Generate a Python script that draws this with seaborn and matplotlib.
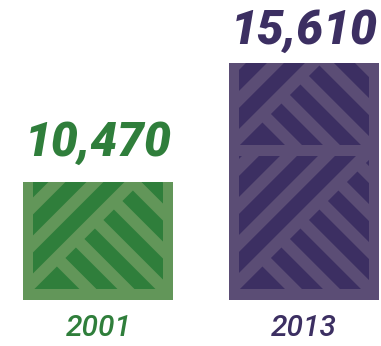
import matplotlib
matplotlib.use("Agg")
import matplotlib.pyplot as plt
import numpy as np
import pandas as pd
import seaborn as sns
from matplotlib.patches import Polygon
from matplotlib.transforms import Affine2D, Bbox

# Data
years = ["2001", "2013"]
counts = [10470, 15610]
count_labels = ["10,470", "15,610"]

# Colours
bar_colors = ["#2f7e3b", "#3c2f62"]
stripe_colors = ["#629659", "#5b4d75"]
text_colors = ["#2f7e3b", "#3c2f62"]

sns.set_theme(style="white")
plt.rcParams["font.family"] = ["Roboto", "DejaVu Sans"]

W, H, DPI = 381, 346, 100
BASE = 46          # pixels between figure bottom and bar baseline
PX = 72 / DPI      # points per pixel

fig = plt.figure(figsize=(W / DPI, H / DPI), dpi=DPI)
fig.patch.set_facecolor("white")
ax = fig.add_axes([0, BASE / H, 1, 1 - BASE / H])
ax.set_facecolor("none")

df = pd.DataFrame({"year": years, "count": counts})
sns.barplot(data=df, x="year", y="count", hue="year", palette=bar_colors,
            saturation=1, width=0.73, legend=False, ax=ax, linewidth=0)
bars = list(ax.patches)

ax.set_xlim(-0.479, 1.375)
ax.set_ylim(5373, 18332)
sns.despine(ax=ax, left=True, bottom=True)
ax.set_yticks([])
ax.set_xlabel("")
ax.set_ylabel("")

# Parquet-like stripe texture (sizes in pixels)
TILE_H = 144
SIDE = 10
FOOT = 11
BAND = 17
STEP = 38
FIRST_BACK = 67


def add_texture(ax, bar, color):
    ext = Bbox.intersection(bar.get_window_extent(), ax.bbox)
    x0, y0, x1, y1 = ext.x0, ext.y0, ext.x1, ext.y1
    w, h = x1 - x0, y1 - y0
    big = 600
    mid = BAND / 2
    n_tiles = int(np.ceil(h / TILE_H))
    for j in range(n_tiles):
        ty0 = y0 + j * TILE_H
        ty1 = min(y0 + (j + 1) * TILE_H, y1)
        clip = Bbox.from_extents(x0, ty0, x1, ty1)
        to_disp = Affine2D().translate(x0, ty0)
        shapes = []
        for k in range(6):
            a = k * STEP
            shapes.append([(-big, -big + a), (big, big + a),
                           (big, big + a + BAND), (-big, -big + a + BAND)])
        for k in range(8):
            b = FIRST_BACK + k * STEP
            p1 = ((b - mid) / 2, (b + mid) / 2)
            p2 = ((b + BAND - mid) / 2, (b + BAND + mid) / 2)
            shapes.append([p1, p2, (p2[0] + big, p2[1] - big),
                           (p1[0] + big, p1[1] - big)])
        shapes.append([(0, 0), (SIDE, 0), (SIDE, TILE_H), (0, TILE_H)])
        shapes.append([(w - SIDE, 0), (w, 0), (w, TILE_H), (w - SIDE, TILE_H)])
        shapes.append([(0, 0), (w, 0), (w, FOOT), (0, FOOT)])
        for pts in shapes:
            poly = Polygon(pts, closed=True, facecolor=color, edgecolor="none",
                           transform=to_disp, zorder=2)
            ax.add_artist(poly)
            poly.set_clip_box(clip)


for bar, col in zip(bars, stripe_colors):
    add_texture(ax, bar, col)

# Value labels above the bars
label_gap_px = [26, 19]
for bar, lab, col, gap in zip(bars, count_labels, text_colors, label_gap_px):
    ax.annotate(lab, xy=(bar.get_x() + bar.get_width() / 2, bar.get_height()),
                xytext=(0, gap * PX), textcoords="offset points",
                ha="center", va="baseline", fontsize=34.5, fontweight="black",
                fontstyle="italic", color=col, annotation_clip=False)

# Year labels under the bars
ax.set_xticks(range(len(years)))
ax.set_xticklabels(years, fontsize=21.5, fontstyle="italic", fontweight="medium")
ax.tick_params(axis="x", length=0, pad=10)
for t, c in zip(ax.get_xticklabels(), text_colors):
    t.set_color(c)

fig.savefig("out.png", dpi=DPI, facecolor="white")
